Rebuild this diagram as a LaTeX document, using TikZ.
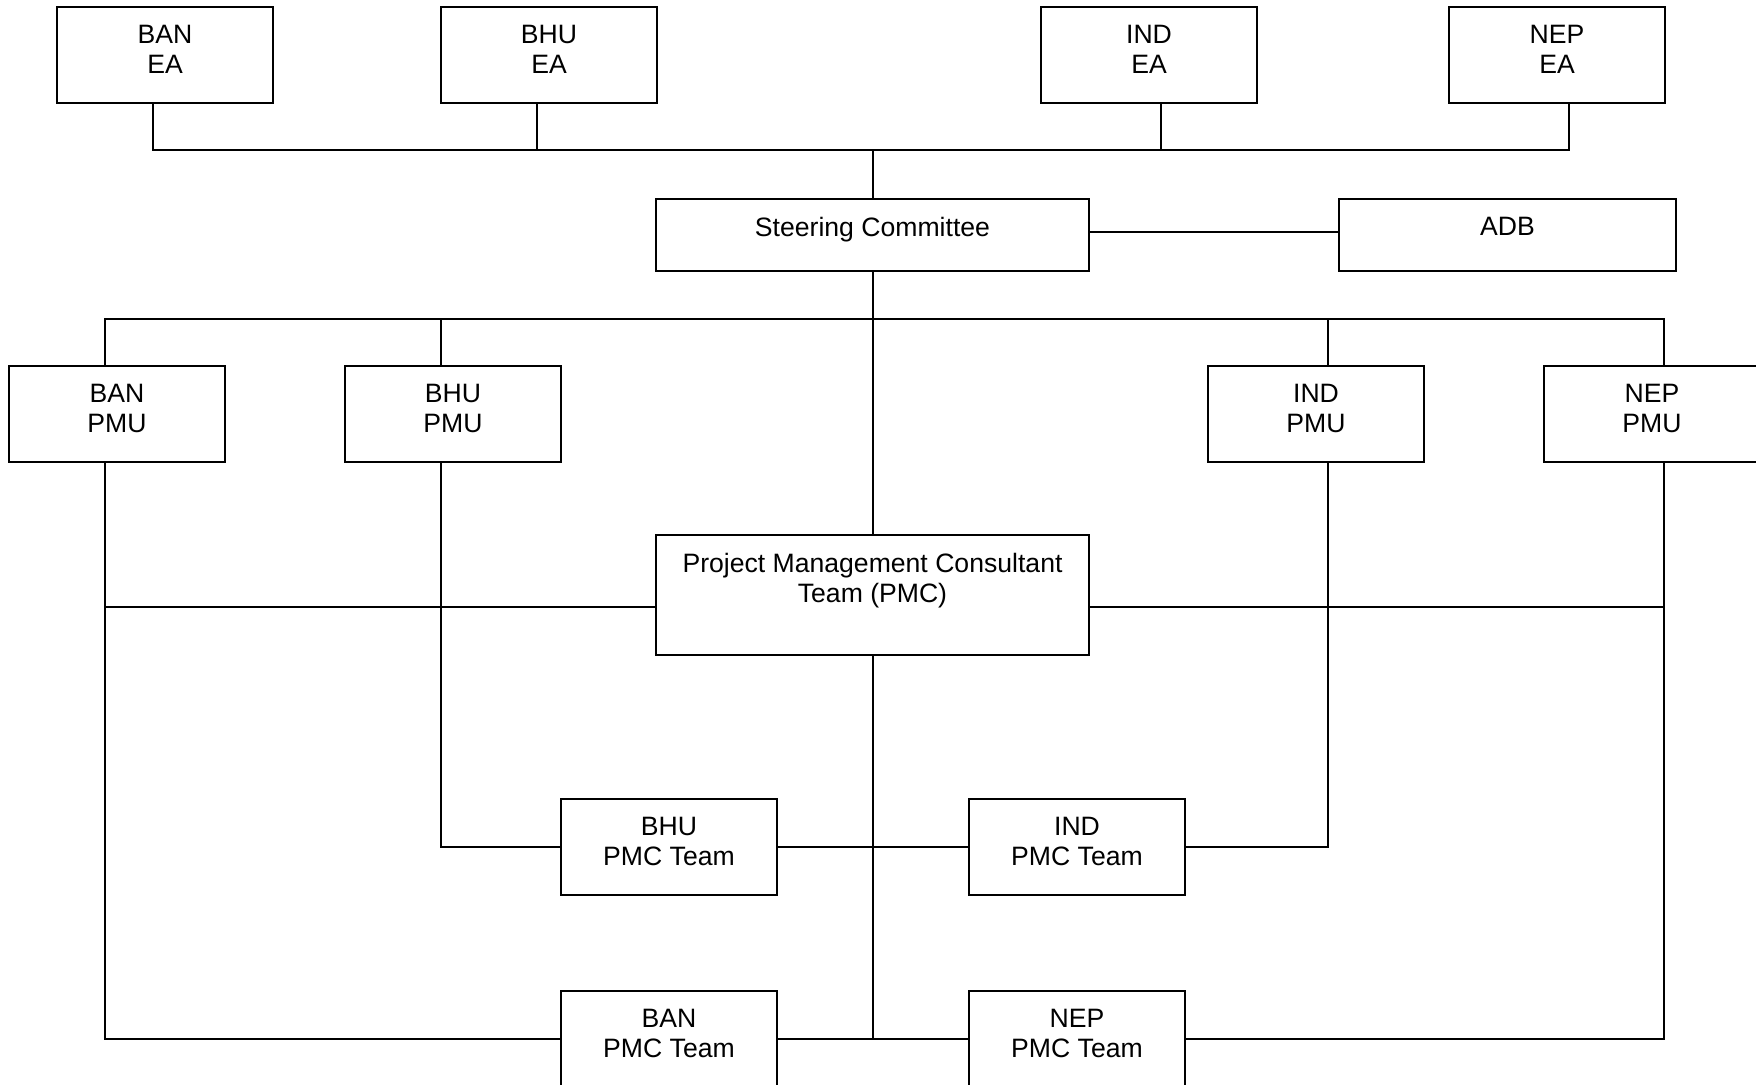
\documentclass[tikz,border=0pt]{standalone}
\usepackage{fontspec}
\setmainfont{Liberation Sans}
\usetikzlibrary{positioning}
\tikzset{
  basic/.style   = {draw, rectangle, line width=1pt, inner sep=0pt},
  unit/.style    = {basic, minimum width=108pt, minimum height=48pt},
  wide/.style    = {basic, minimum width=216.5pt, minimum height=36pt},
  caption/.style = {align=center, inner sep=0pt, anchor=north,
                    font=\fontsize{13.3}{15}\selectfont},
  link/.style    = {line width=1pt}
}

\begin{document}
\begin{tikzpicture}[x=0.5pt, y=-0.5pt]

	\useasboundingbox (0,0) rectangle (1756,1084);
	\clip (0,0) rectangle (1756,1084);

	% executing agencies, top row
	\node[unit] (banEA) at (165,55) {};
	\node[unit] (bhuEA) at (549,55) {};
	\node[unit] (indEA) at (1149,55) {};
	\node[unit] (nepEA) at (1557,55) {};

	% steering committee and ADB
	\node[wide] (steer) at (872.5,235) {};
	\node[wide, minimum width=168.5pt] (adb) at (1507.5,235) {};

	% project management units
	\node[unit] (banPMU) at (117,414) {};
	\node[unit] (bhuPMU) at (453,414) {};
	\node[unit] (indPMU) at (1316,414) {};
	\node[unit] (nepPMU) at (1652,414) {};

	% consultant team
	\node[wide, minimum height=60pt] (pmc) at (872.5,595) {};

	% PMC teams, bottom rows
	\node[unit] (bhuPMC) at (669,847) {};
	\node[unit] (indPMC) at (1077,847) {};
	\node[unit] (banPMC) at (669,1039) {};
	\node[unit] (nepPMC) at (1077,1039) {};

	% texts, hung from the top of each box
	\begin{scope}[every node/.style={caption}]
	\node[below=9.3pt of banEA.north] (banEAt) {BAN\\EA};
	\node[below=9.3pt of bhuEA.north] (bhuEAt) {BHU\\EA};
	\node[below=9.3pt of indEA.north] (indEAt) {IND\\EA};
	\node[below=9.3pt of nepEA.north] (nepEAt) {NEP\\EA};
	\node[below=9.3pt of steer.north] (steert) {Steering Committee};
	\node[below=9.3pt of adb.north] (adbt) {ADB};
	\node[below=9.3pt of banPMU.north] (banPMUt) {BAN\\PMU};
	\node[below=9.3pt of bhuPMU.north] (bhuPMUt) {BHU\\PMU};
	\node[below=9.3pt of indPMU.north] (indPMUt) {IND\\PMU};
	\node[below=9.3pt of nepPMU.north] (nepPMUt) {NEP\\PMU};
	\node[below=9.3pt of pmc.north] (pmct) {Project Management Consultant\\Team (PMC)};
	\node[below=9.3pt of bhuPMC.north] (bhuPMCt) {BHU\\PMC Team};
	\node[below=9.3pt of indPMC.north] (indPMCt) {IND\\PMC Team};
	\node[below=9.3pt of banPMC.north] (banPMCt) {BAN\\PMC Team};
	\node[below=9.3pt of nepPMC.north] (nepPMCt) {NEP\\PMC Team};
	\end{scope}

	% buses above and below the steering committee
	\coordinate (eabus) at (872.5,150);
	\coordinate (pmubus) at (872.5,319);

	\foreach \n/\s in {banEA/-6pt, bhuEA/-6pt, indEA/6pt, nepEA/6pt}
	  \draw[link] ([xshift=\s]\n.south) |- (eabus);
	\draw[link] (eabus) -- (steer.north);
	\draw[link] ([yshift=1.5pt]steer.east) -- ([yshift=1.5pt]adb.west);

	\foreach \n/\s in {banPMU/-6pt, bhuPMU/-6pt, indPMU/6pt, nepPMU/6pt}
	  \draw[link] ([xshift=\s]\n.north) |- (pmubus);
	\draw[link] (steer.south) -- (pmc.north);

	% PMUs across to the consultant team
	\draw[link] ([yshift=-6pt]pmc.west) -| ([xshift=-6pt]banPMU.south);
	\draw[link] ([yshift=-6pt]pmc.east) -| ([xshift=6pt]nepPMU.south);

	% PMUs down to the PMC teams
	\draw[link] ([xshift=-6pt]banPMU.south) |- (banPMC.west);
	\draw[link] ([xshift=-6pt]bhuPMU.south) |- (bhuPMC.west);
	\draw[link] ([xshift=6pt]indPMU.south) |- (indPMC.east);
	\draw[link] ([xshift=6pt]nepPMU.south) |- (nepPMC.east);

	\draw[link] (pmc.south) -- (pmc.south |- banPMC.west);
	\draw[link] (bhuPMC.east) -- (indPMC.west);
	\draw[link] (banPMC.east) -- (nepPMC.west);

\end{tikzpicture}
\end{document}
